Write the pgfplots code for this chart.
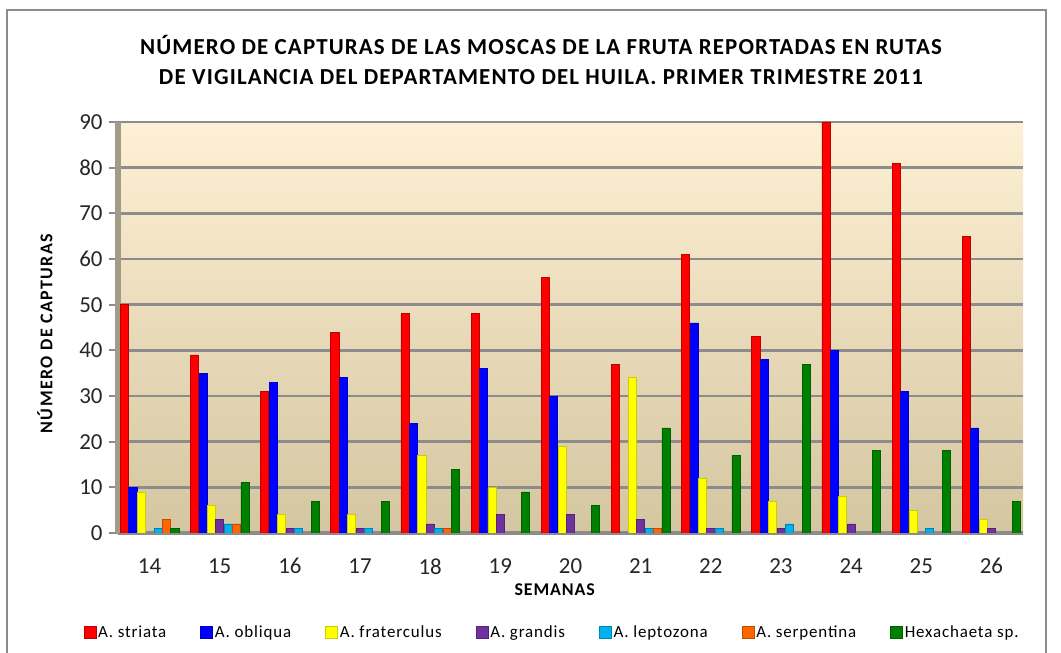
\documentclass[border=0pt]{standalone}
\usepackage{pgfplots}
\pgfplotsset{compat=1.18}
\usepackage{fontspec}
\setmainfont{Carlito}
\newfontfamily\lsfont[LetterSpace=5]{Carlito}
\newfontfamily\ylfont[LetterSpace=8]{Carlito}
\newfontfamily\lgfont[LetterSpace=5]{Carlito}
\definecolor{cRed}{RGB}{255,0,0}
\definecolor{cBlue}{RGB}{0,0,255}
\definecolor{cYellow}{RGB}{255,255,0}
\definecolor{cPurple}{RGB}{112,48,160}
\definecolor{cCyan}{RGB}{0,176,240}
\definecolor{cOrange}{RGB}{255,102,0}
\definecolor{cGreen}{RGB}{0,128,0}
\definecolor{gridgray}{RGB}{140,140,140}
\definecolor{wallgray}{RGB}{163,155,135}
\begin{document}
\begin{tikzpicture}[x=1bp,y=1bp]
\useasboundingbox (0,0) rectangle (1061,653);
\fill[white] (0,0) rectangle (1061,653);
\draw[gridgray, line width=2.5bp] (7,-20) -- (7,643) -- (1046,643) -- (1046,-20);
\node[font=\lsfont\fontsize{23}{30}\selectfont\bfseries, align=center] at (541,593)
  {NÚMERO DE CAPTURAS DE LAS MOSCAS DE LA FRUTA REPORTADAS EN RUTAS\\
   DE VIGILANCIA DEL DEPARTAMENTO DEL HUILA. PRIMER TRIMESTRE 2011};
\begin{axis}[
  at={(118bp,120bp)}, anchor=south west,
  scale only axis, width=905bp, height=411bp,
  ybar=0.3bp, bar width=8.1bp,
  xmin=-0.45, xmax=12.45, ymin=0, ymax=90,
  xtick=data, xticklabels={14,15,16,17,18,19,20,21,22,23,24,25,26},
  ytick={0,10,...,90},
  ymajorgrids, grid style={gridgray, line width=2.5bp},
  axis x line*=bottom, axis y line*=left,
  x axis line style={gridgray, line width=4bp, -},
  y axis line style={wallgray, line width=6bp, -},
  x tick style={draw=none},
  y tick style={gridgray, line width=2bp},
  tick align=outside, major tick length=9bp,
  /pgf/number format/assume math mode=true,
  ticklabel style={font=\fontsize{23}{26}\selectfont, text=black!85},
  xticklabel style={yshift=-13bp},
  yticklabel style={xshift=-3bp},
  axis background/.style={top color={rgb,255:red,254;green,240;blue,212}, bottom color={rgb,255:red,212;green,198;blue,160}},
  xlabel={\textbf{SEMANAS}},
  xlabel style={font=\lgfont\fontsize{18}{20}\selectfont, at={(axis description cs:0.483,-0.1387)}, anchor=center},
  ylabel={\textbf{NÚMERO DE CAPTURAS}},
  ylabel style={font=\ylfont\fontsize{18}{20}\selectfont, at={(axis description cs:-0.0807,0.487)}, anchor=center, rotate=0},
  legend columns=7,
  legend style={at={(0.4796,-0.241)}, anchor=center, draw=none, fill=none,
    font=\lgfont\fontsize{17}{20}\selectfont, /tikz/every even column/.append style={column sep=32bp}},
  legend image code/.code={\fill[#1] (0bp,-6bp) rectangle (12bp,6bp);},
  every axis plot/.append style={line width=0.6bp},
]
\addplot[fill=cRed, draw=cRed!75!black] coordinates {(0,50)(1,39)(2,31)(3,44)(4,48)(5,48)(6,56)(7,37)(8,61)(9,43)(10,90)(11,81)(12,65)};
\addplot[fill=cBlue, draw=cBlue!75!black] coordinates {(0,10)(1,35)(2,33)(3,34)(4,24)(5,36)(6,30)(7,0)(8,46)(9,38)(10,40)(11,31)(12,23)};
\addplot[fill=cYellow, draw=cYellow!80!black] coordinates {(0,9)(1,6)(2,4)(3,4)(4,17)(5,10)(6,19)(7,34)(8,12)(9,7)(10,8)(11,5)(12,3)};
\addplot[fill=cPurple, draw=cPurple!75!black] coordinates {(0,0)(1,3)(2,1)(3,1)(4,2)(5,4)(6,4)(7,3)(8,1)(9,1)(10,2)(11,0)(12,1)};
\addplot[fill=cCyan, draw=cCyan!75!black] coordinates {(0,1)(1,2)(2,1)(3,1)(4,1)(5,0)(6,0)(7,1)(8,1)(9,2)(10,0)(11,1)(12,0)};
\addplot[fill=cOrange, draw=cOrange!75!black] coordinates {(0,3)(1,2)(2,0)(3,0)(4,1)(5,0)(6,0)(7,1)(8,0)(9,0)(10,0)(11,0)(12,0)};
\addplot[fill=cGreen, draw=cGreen!75!black] coordinates {(0,1)(1,11)(2,7)(3,7)(4,14)(5,9)(6,6)(7,23)(8,17)(9,37)(10,18)(11,18)(12,7)};
\legend{A. striata, A. obliqua, A. fraterculus, A. grandis, A. leptozona, A. serpentina, Hexachaeta sp.}
\end{axis}
\end{tikzpicture}
\end{document}
